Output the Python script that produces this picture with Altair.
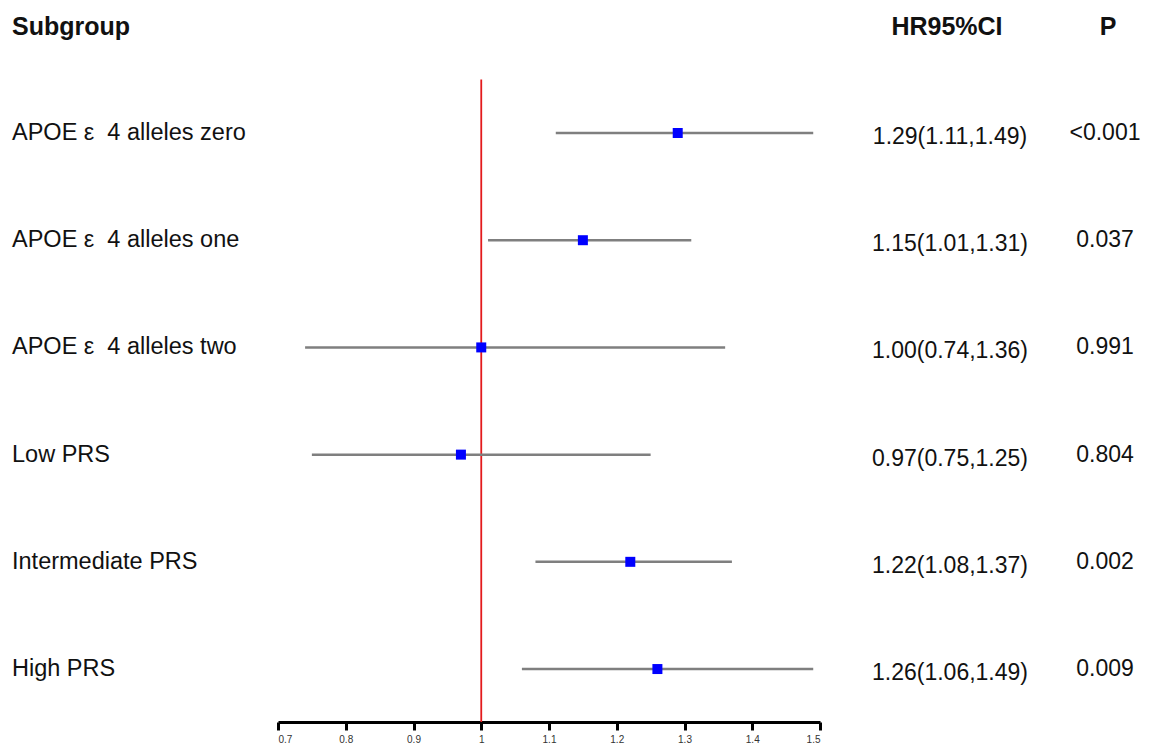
import altair as alt
import pandas as pd

subgroups = ["APOE ε\u00a0 4 alleles zero", "APOE ε\u00a0 4 alleles one", "APOE ε\u00a0 4 alleles two",
             "Low PRS", "Intermediate PRS", "High PRS"]
hr = [1.29, 1.15, 1.00, 0.97, 1.22, 1.26]
lower = [1.11, 1.01, 0.74, 0.75, 1.08, 1.06]
upper = [1.49, 1.31, 1.36, 1.25, 1.37, 1.49]
hr_text = ["1.29(1.11,1.49)", "1.15(1.01,1.31)", "1.00(0.74,1.36)",
           "0.97(0.75,1.25)", "1.22(1.08,1.37)", "1.26(1.06,1.49)"]
p_text = ["<0.001", "0.037", "0.991", "0.804", "0.002", "0.009"]
x_ticks = [0.7, 0.8, 0.9, 1.0, 1.1, 1.2, 1.3, 1.4, 1.5]
ref_value = [1.0]
header_labels = ["Subgroup", "HR95%CI", "P"]

FONT = "Liberation Sans"
W, H = 1133, 714

df = pd.DataFrame({
    "row": list(range(len(subgroups))),
    "subgroup": subgroups,
    "hr": hr,
    "lower": lower,
    "upper": upper,
    "hr_text": hr_text,
    "p_text": p_text,
})

xscale = alt.Scale(domain=[0.7, 1.5], range=[270, 812], nice=False, zero=False)
yscale = alt.Scale(domain=[-1.166, 5.494], range=[0, H], nice=False, zero=False)

base = alt.Chart(df)
y_enc = alt.Y("row:Q", scale=yscale, axis=None)

ref = alt.Chart(pd.DataFrame({"ref": ref_value})).mark_rule(
    color="#e31a1c", strokeWidth=1.8
).encode(
    x=alt.X("ref:Q", scale=xscale,
            axis=alt.Axis(values=x_ticks, format="~g", title=None, grid=False,
                          domainColor="black", domainWidth=3, tickColor="black",
                          tickWidth=3, tickSize=8, labelFontSize=10,
                          labelColor="#333333", labelPadding=4, labelFont=FONT)),
    y=alt.datum(-0.5, scale=yscale, axis=None),
    y2=alt.value(H),
)

whisk = base.mark_rule(color="#7f7f7f", strokeWidth=2.5).encode(
    x=alt.X("lower:Q", scale=xscale),
    x2="upper:Q",
    y=y_enc,
)

pts = base.mark_square(color="#0000ff", size=100, opacity=1).encode(
    x=alt.X("hr:Q", scale=xscale),
    y=y_enc,
)

labels = base.mark_text(align="left", baseline="middle", font=FONT,
                        fontSize=23.5, color="#111111").encode(
    x=alt.value(4), y=y_enc, text="subgroup:N")

hrt = base.mark_text(align="center", baseline="middle", font=FONT,
                     fontSize=23, color="#111111", dy=4).encode(
    x=alt.value(942), y=y_enc, text="hr_text:N")

pt = base.mark_text(align="center", baseline="middle", font=FONT,
                    fontSize=23, color="#111111").encode(
    x=alt.value(1097), y=y_enc, text="p_text:N")

hdr_df = pd.DataFrame({"label": header_labels, "pos": [0, 1, 2]})
hdr1 = alt.Chart(hdr_df).transform_filter("datum.pos == 0").mark_text(
    align="left", baseline="middle", font=FONT, fontSize=25, fontWeight="bold",
    color="#111111").encode(x=alt.value(4), y=alt.value(19), text="label:N")
hdr2 = alt.Chart(hdr_df).transform_filter("datum.pos == 1").mark_text(
    align="center", baseline="middle", font=FONT, fontSize=25, fontWeight="bold",
    color="#111111").encode(x=alt.value(939), y=alt.value(19), text="label:N")
hdr3 = alt.Chart(hdr_df).transform_filter("datum.pos == 2").mark_text(
    align="center", baseline="middle", font=FONT, fontSize=25, fontWeight="bold",
    color="#111111").encode(x=alt.value(1100), y=alt.value(19), text="label:N")

chart = alt.layer(ref, whisk, pts, labels, hrt, pt, hdr1, hdr2, hdr3).properties(
    width=W, height=H, padding=0, background="white"
).configure_view(stroke=None, strokeWidth=0)

chart.save("out.html", embed_options={"renderer": "svg", "actions": False})
